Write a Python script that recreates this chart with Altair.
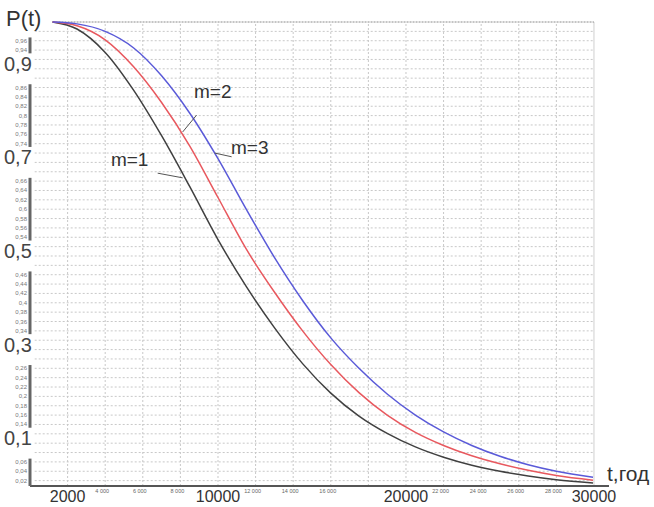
import altair as alt
import pandas as pd

# ---------------- data ----------------
t_m1 = [1200, 2500, 4000, 5500, 7000, 8500, 10000, 11500, 13000, 14500, 16000, 17500,
        19000, 20500, 22000, 23500, 25000, 26500, 28000, 29950]
p_m1 = [1.000, 0.985, 0.935, 0.855, 0.757, 0.648, 0.535, 0.435, 0.347, 0.270, 0.207, 0.158,
        0.121, 0.092, 0.070, 0.053, 0.040, 0.030, 0.022, 0.015]

t_m2 = [1200, 2500, 4000, 5500, 7000, 8500, 10000, 11500, 13000, 14500, 16000, 17500,
        19000, 20500, 22000, 23500, 25000, 26500, 28000, 29950]
p_m2 = [1.000, 0.992, 0.962, 0.905, 0.828, 0.735, 0.625, 0.515, 0.423, 0.340, 0.268, 0.208,
        0.160, 0.123, 0.095, 0.073, 0.056, 0.042, 0.031, 0.021]

t_m3 = [1200, 2500, 4000, 5500, 7000, 8500, 10000, 11500, 13000, 14500, 16000, 17500,
        19000, 20500, 22000, 23500, 25000, 26500, 28000, 29950]
p_m3 = [1.000, 0.996, 0.980, 0.945, 0.885, 0.805, 0.708, 0.600, 0.497, 0.405, 0.325, 0.260,
        0.205, 0.160, 0.124, 0.095, 0.072, 0.054, 0.040, 0.027]

series_names = ["m=1", "m=2", "m=3"]
series_colors = ["#404040", "#e8585e", "#5a5ad8"]

# x-axis tick labels
x_big = [2000, 10000, 20000, 30000]
x_small = [4000, 6000, 8000, 12000, 14000, 16000, 22000, 24000, 26000, 28000]
x_grid = [2000, 4000, 6000, 8000, 10000, 12000, 14000, 16000, 18000, 20000,
          22000, 24000, 26000, 28000]

# y-axis tick labels
y_big = [0.9, 0.7, 0.5, 0.3, 0.1]
y_small = [0.96, 0.94,
           0.86, 0.84, 0.82, 0.8, 0.78, 0.76, 0.74,
           0.66, 0.64, 0.62, 0.6, 0.58, 0.56, 0.54,
           0.46, 0.44, 0.42, 0.4, 0.38, 0.36, 0.34,
           0.26, 0.24, 0.22, 0.2, 0.18, 0.16, 0.14,
           0.06, 0.04, 0.02]
y_grid = [round(0.02 * i, 2) for i in range(1, 50)]
# pieces of the broken y-axis line
ybar_lo = [0.933, 0.733, 0.533, 0.333, 0.133, 0.0085]
ybar_hi = [0.967, 0.867, 0.667, 0.467, 0.267, 0.067]

# annotations: label position and leader line
ann_text = ["m=1", "m=2", "m=3"]
ann_t = [5300, 9720, 11690]
ann_p = [0.705, 0.850, 0.731]
lead_t1 = [6790, 8860, 10725]
lead_p1 = [0.677, 0.801, 0.712]
lead_t2 = [8120, 8120, 9820]
lead_p2 = [0.667, 0.765, 0.720]

# ---------------- tables ----------------
rows = []
for name, ts, ps in zip(series_names, [t_m1, t_m2, t_m3], [p_m1, p_m2, p_m3]):
    for t, p in zip(ts, ps):
        rows.append({"m": name, "t": t, "p": p})
curves = pd.DataFrame(rows)

def fmt_comma(v):
    return ("%g" % v).replace(".", ",")

xbig_df = pd.DataFrame({"t": x_big, "lab": [str(v) for v in x_big]})
xsmall_df = pd.DataFrame({"t": x_small, "lab": [f"{v // 1000} 000" for v in x_small]})
ybig_df = pd.DataFrame({"p": y_big, "lab": [fmt_comma(v) for v in y_big]})
ysmall_df = pd.DataFrame({"p": y_small, "lab": [fmt_comma(v) for v in y_small]})
hgrid_df = pd.DataFrame({"p": y_grid})
vgrid_df = pd.DataFrame({"t": x_grid})
ybar_df = pd.DataFrame({"lo": ybar_lo, "hi": ybar_hi})
ann_df = pd.DataFrame({"lab": ann_text, "t": ann_t, "p": ann_p})
lead_df = pd.DataFrame({"t1": lead_t1, "p1": lead_p1, "t2": lead_t2, "p2": lead_p2})

# ---------------- scales ----------------
W, H = 579, 464
XMAX = 30800
YMIN, YMAX = 0.0085, 1.0
xs = alt.Scale(domain=[0, XMAX], nice=False, zero=False)
ys = alt.Scale(domain=[YMIN, YMAX], nice=False, zero=False)
FONT = "Liberation Sans"

def X(f):
    return alt.X(f, type="quantitative", scale=xs, axis=None)

def Y(f):
    return alt.Y(f, type="quantitative", scale=ys, axis=None)

hgrid = alt.Chart(hgrid_df).mark_rule(color="#c8c8c8", strokeWidth=1, strokeDash=[2, 2]).encode(
    x=alt.XDatum(250, scale=xs, axis=None), x2=alt.X2Datum(30000), y=Y("p"))

vgrid = alt.Chart(vgrid_df).mark_rule(color="#c8c8c8", strokeWidth=1, strokeDash=[2, 2]).encode(
    x=X("t"), y=alt.YDatum(YMIN, scale=ys, axis=None), y2=alt.Y2Datum(YMAX))

rborder = alt.Chart(pd.DataFrame({"t": [30000]})).mark_rule(color="#cfcfcf", strokeWidth=1).encode(
    x=X("t"), y=alt.YDatum(YMIN, scale=ys, axis=None), y2=alt.Y2Datum(YMAX))

topline = alt.Chart(pd.DataFrame({"p": [1.0]})).mark_rule(color="#8a8a8a", strokeWidth=1, strokeDash=[2, 1]).encode(
    x=alt.XDatum(1200, scale=xs, axis=None), x2=alt.X2Datum(30000), y=Y("p"))

lines = alt.Chart(curves).mark_line(strokeWidth=1.5, interpolate="monotone").encode(
    x=X("t"), y=Y("p"),
    color=alt.Color("m:N", scale=alt.Scale(domain=series_names, range=series_colors), legend=None),
    order=alt.Order("t:Q"))

xaxis = alt.Chart(pd.DataFrame({"p": [YMIN]})).mark_rule(color="#555555", strokeWidth=2).encode(
    x=alt.XDatum(0, scale=xs, axis=None), x2=alt.X2Datum(XMAX), y=Y("p"))

ybars = alt.Chart(ybar_df).mark_rule(color="#666666", strokeWidth=3).encode(
    x=alt.XDatum(0, scale=xs, axis=None), y=Y("lo"), y2="hi:Q")

xbig = alt.Chart(xbig_df).mark_text(font=FONT, fontSize=16, color="#333333", baseline="top", dy=3).encode(
    x=X("t"), y=alt.YDatum(YMIN, scale=ys, axis=None), text="lab:N")

xsmall = alt.Chart(xsmall_df).mark_text(font=FONT, fontSize=5.5, color="#666666", baseline="top", dy=3, dx=-3).encode(
    x=X("t"), y=alt.YDatum(YMIN, scale=ys, axis=None), text="lab:N")

ybig = alt.Chart(ybig_df).mark_text(font=FONT, fontSize=20, color="#444444", align="left", baseline="middle", dx=-26, dy=-4).encode(
    x=alt.XDatum(0, scale=xs, axis=None), y=Y("p"), text="lab:N")

ysmall = alt.Chart(ysmall_df).mark_text(font=FONT, fontSize=6, color="#777777", align="right", baseline="middle", dx=-3).encode(
    x=alt.XDatum(0, scale=xs, axis=None), y=Y("p"), text="lab:N")

ptitle = alt.Chart(pd.DataFrame({"lab": ["P(t)"]})).mark_text(font=FONT, fontSize=22, color="#333333", align="left", baseline="middle", dx=-24, dy=-3).encode(
    x=alt.XDatum(0, scale=xs, axis=None), y=alt.YDatum(YMAX, scale=ys, axis=None), text="lab:N")

ttitle = alt.Chart(pd.DataFrame({"lab": ["t,год"]})).mark_text(font=FONT, fontSize=21, color="#333333", align="left", baseline="middle", dx=-2, dy=-11).encode(
    x=alt.XDatum(XMAX, scale=xs, axis=None), y=alt.YDatum(YMIN, scale=ys, axis=None), text="lab:N")

leaders = alt.Chart(lead_df).mark_rule(color="#555555", strokeWidth=1).encode(
    x=X("t1"), y=Y("p1"), x2="t2:Q", y2="p2:Q")

ann = alt.Chart(ann_df).mark_text(font=FONT, fontSize=19, color="#333333", align="center", baseline="middle").encode(
    x=X("t"), y=Y("p"), text="lab:N")

chart = alt.layer(
    hgrid, vgrid, rborder, topline, xaxis, ybars, lines, leaders, ann,
    xbig, xsmall, ybig, ysmall, ptitle, ttitle
).properties(
    width=W, height=H,
    autosize=alt.AutoSizeParams(type="none"),
    padding={"left": 30, "top": 22, "right": 654 - 30 - W, "bottom": 507 - 22 - H},
    background="white",
).configure_view(stroke=None)

chart.save("out.html", embed_options={"renderer": "svg", "actions": False})
